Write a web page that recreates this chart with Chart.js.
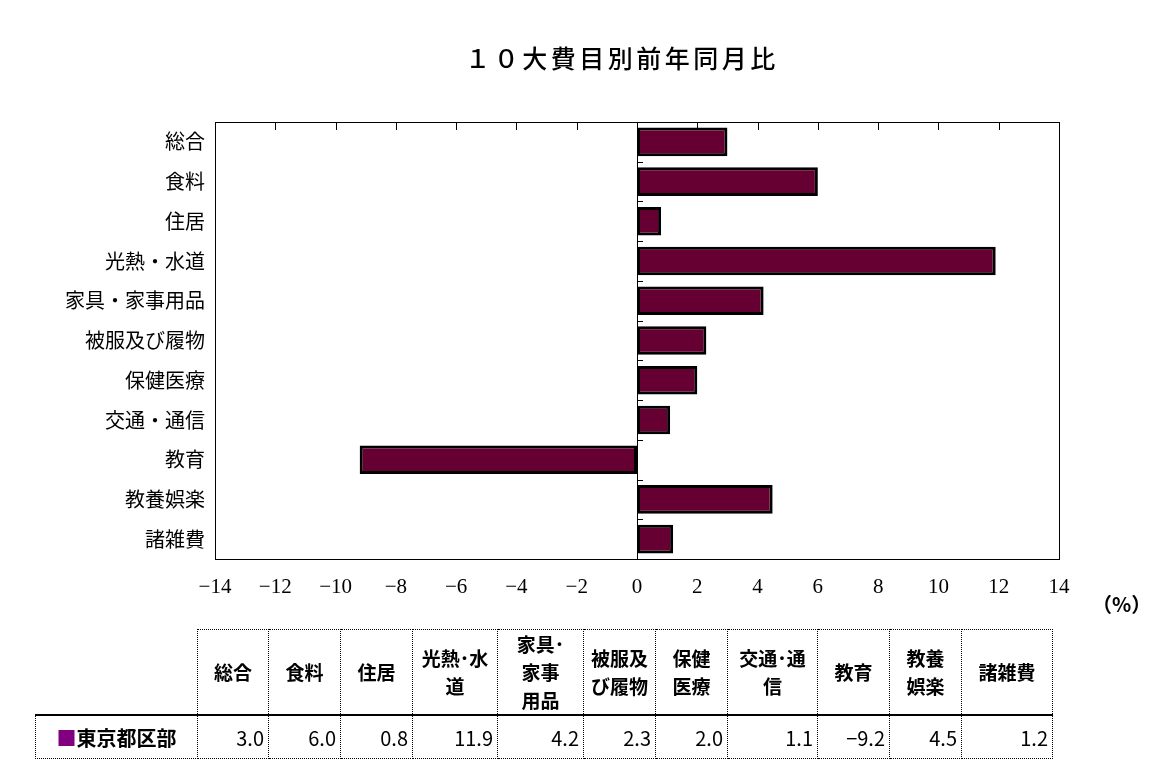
<!DOCTYPE html>
<html lang="ja">
<head>
<meta charset="utf-8">
<script src="https://cdn.jsdelivr.net/npm/chart.js@4.4.1/dist/chart.umd.min.js"></script>
<style>
    body { margin: 0; background: #fff; font-family: "Noto Sans CJK JP", sans-serif; }
    #wrap { position: relative; width: 1168px; height: 777px; overflow: hidden; }
    #chart { position: absolute; left: 0; top: 0; }
    #title { position: absolute; left: 38px; width: 1168px; top: 40px; text-align: center;
             font-size: 25px; letter-spacing: 3.5px; line-height: 34px; color: #000; font-weight: 500; }
    #unit { position: absolute; left: 1092px; top: 589px; font-size: 20px; font-weight: bold; color: #000; }
    #tbl { position: absolute; left: 35px; top: 629px; border-collapse: collapse; table-layout: fixed; }
    #tbl td { border: 1px dotted #000; padding: 0; color: #000; }
    #tbl tr.head td { height: 84px; text-align: center; font-weight: bold; font-size: 19px; line-height: 28px; }
    #tbl tr.head td.blank { border: none; border-bottom: 2px solid #000; }
    #tbl tr.head td { border-bottom: 2px solid #000; }
    #tbl tr.vals td { height: 42px; text-align: right; padding-right: 4px; font-size: 20px; }
    #tbl tr.vals td.name { text-align: center; padding-right: 0; font-weight: bold; }
    .mark { color: #800080; }
</style>
</head>
<body>
<div id="wrap">
    <canvas id="chart" width="1168" height="777"></canvas>
    <div id="title">１０大費目別前年同月比</div>
    <div id="unit">（%）</div>
    <table id="tbl"></table>
</div>
<script>
const categories = ['総合', '食料', '住居', '光熱・水道', '家具・家事用品', '被服及び履物', '保健医療', '交通・通信', '教育', '教養娯楽', '諸雑費'];
const tableHeaders = ['総合', '食料', '住居', '光熱･水\n道', '家具･\n家事\n用品', '被服及\nび履物', '保健\n医療', '交通･通\n信', '教育', '教養\n娯楽', '諸雑費'];
const seriesName = '東京都区部';
const values = [3.0, 6.0, 0.8, 11.9, 4.2, 2.3, 2.0, 1.1, -9.2, 4.5, 1.2];
const xTickValues = [-14, -12, -10, -8, -6, -4, -2, 0, 2, 4, 6, 8, 10, 12, 14];

const colWidths = [162, 71, 72, 72, 85, 86, 72, 72, 90, 72, 72, 91];

function fmtTick(v) {
    return v < 0 ? '−' + Math.abs(v) : String(v);
}

// table under the chart
function buildTable() {
    const tbl = document.getElementById('tbl');
    const cg = document.createElement('colgroup');
    colWidths.forEach(w => {
        const c = document.createElement('col');
        c.style.width = w + 'px';
        cg.appendChild(c);
    });
    tbl.appendChild(cg);

    const head = document.createElement('tr');
    head.className = 'head';
    const blank = document.createElement('td');
    blank.className = 'blank';
    head.appendChild(blank);
    tableHeaders.forEach(h => {
        const td = document.createElement('td');
        h.split('\n').forEach((line, i) => {
            if (i > 0) td.appendChild(document.createElement('br'));
            td.appendChild(document.createTextNode(line));
        });
        head.appendChild(td);
    });
    tbl.appendChild(head);

    const row = document.createElement('tr');
    row.className = 'vals';
    const name = document.createElement('td');
    name.className = 'name';
    name.innerHTML = '<span class="mark">■</span>' + seriesName;
    row.appendChild(name);
    values.forEach(v => {
        const td = document.createElement('td');
        td.textContent = v < 0 ? '−' + Math.abs(v).toFixed(1) : v.toFixed(1);
        row.appendChild(td);
    });
    tbl.appendChild(row);
}

// frame, zero line and the little tick marks
const framePlugin = {
    id: 'frame',
    beforeDatasetsDraw(chart) {
        const { ctx, chartArea: a, scales: { x } } = chart;
        const zx = Math.round(x.getPixelForValue(0)) + 0.5;
        ctx.save();
        ctx.strokeStyle = '#000';
        ctx.lineWidth = 1;
        ctx.beginPath();
        ctx.moveTo(zx, a.top);
        ctx.lineTo(zx, a.bottom);
        ctx.stroke();
        ctx.restore();
    },
    afterDatasetsDraw(chart) {
        const { ctx, chartArea: a, scales: { x, y } } = chart;
        ctx.save();
        ctx.strokeStyle = '#000';
        ctx.lineWidth = 1;
        ctx.strokeRect(Math.round(a.left) + 0.5, Math.round(a.top) + 0.5,
            Math.round(a.right - a.left), Math.round(a.bottom - a.top));
        ctx.beginPath();
        xTickValues.forEach(v => {
            const px = Math.round(x.getPixelForValue(v)) + 0.5;
            ctx.moveTo(px, a.top);
            ctx.lineTo(px, a.top + 8);
        });
        const zx = Math.round(x.getPixelForValue(0));
        for (let i = 0; i < categories.length - 1; i++) {
            const py = Math.round((y.getPixelForValue(i) + y.getPixelForValue(i + 1)) / 2) + 0.5;
            ctx.moveTo(zx, py);
            ctx.lineTo(zx + 6, py);
        }
        ctx.stroke();
        ctx.restore();
    }
};

buildTable();

new Chart(document.getElementById('chart').getContext('2d'), {
    type: 'bar',
    data: {
        labels: categories,
        datasets: [{
            label: seriesName,
            data: values,
            backgroundColor: '#660033',
            borderColor: '#000',
            borderWidth: 3,
            borderSkipped: false,
            barPercentage: 0.72,
            categoryPercentage: 1.0
        }]
    },
    options: {
        indexAxis: 'y',
        responsive: false,
        animation: false,
        layout: { padding: { top: 122, right: 109, left: 0, bottom: 0 } },
        plugins: {
            legend: { display: false },
            title: { display: false },
            tooltip: { enabled: false }
        },
        scales: {
            x: {
                min: -14,
                max: 14,
                afterBuildTicks: (scale) => {
                    scale.ticks = xTickValues.map(v => ({ value: v }));
                },
                afterFit: (scale) => { scale.height = 218; },
                grid: { display: false, drawTicks: false },
                border: { display: false },
                ticks: {
                    padding: 16,
                    color: '#000',
                    font: { family: '"Liberation Serif", "DejaVu Serif", serif', size: 21 },
                    callback: (v) => fmtTick(v)
                }
            },
            y: {
                afterFit: (scale) => { scale.width = 215; },
                grid: { display: false, drawTicks: false },
                border: { display: false },
                ticks: {
                    padding: 10,
                    color: '#000',
                    font: { family: '"Noto Sans CJK JP", sans-serif', size: 20 }
                }
            }
        }
    },
    plugins: [framePlugin]
});
</script>
</body>
</html>
